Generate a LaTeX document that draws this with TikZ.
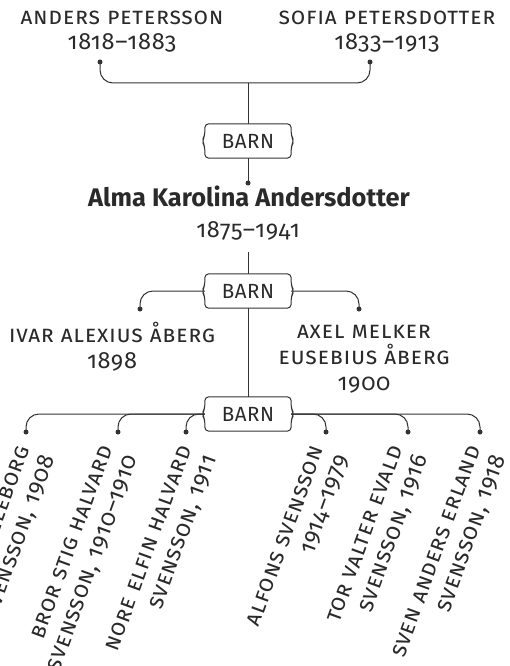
\documentclass[tikz,border=0pt]{standalone}
\usepackage{fontspec}
\setmainfont{Fira Sans}[Numbers={OldStyle,Proportional}]
\newfontfamily\namefont{Fira Sans}[Numbers={OldStyle,Proportional},Letters=UppercaseSmallCaps,LetterSpace=3]
\newfontfamily\barnfont{Fira Sans}[LetterSpace=3]
\usetikzlibrary{calc}
\definecolor{ink}{HTML}{2A2A2A}
\definecolor{wire}{HTML}{333333}
\tikzset{
  person/.style={text=ink,align=center,inner sep=0pt,anchor=base,font=\namefont\fontsize{23.5}{26}\selectfont},
  title/.style={text=ink,inner sep=0pt,anchor=base,font=\bfseries\fontsize{25.4}{26}\selectfont},
  barn/.style={text=ink,inner sep=0pt,minimum width=86pt,minimum height=34pt,font=\barnfont\fontsize{20.5}{22}\selectfont},
  child/.style={text=ink,align=right,inner sep=0pt,rotate=70,anchor=north east,font=\namefont\fontsize{23.5}{26.5}\selectfont},
  wireline/.style={draw=wire,line width=1pt},
  branch/.style={wireline,rounded corners=13pt},
  dotmark/.style={fill=wire}
}
\newcommand\bracebox[1]{%
  \draw[wireline,rounded corners=4pt] (#1.north west) -- ($(#1.west)+(0,-5)$) -- ($(#1.west)+(-3,0)$) -- ($(#1.west)+(0,5)$) -- (#1.south west) -- (#1.south east) -- ($(#1.east)+(0,5)$) -- ($(#1.east)+(3,0)$) -- ($(#1.east)+(0,-5)$) -- (#1.north east) -- cycle;}
\begin{document}
\begin{tikzpicture}[x=1pt,y=-1pt]
\useasboundingbox (0,0) rectangle (510,666);
\clip (0,0) rectangle (510,666);
% parents
\node[person,font=\namefont\fontsize{23.5}{25}\selectfont] (p1) at (122,50) {ANDERS PETERSSON\\1818–1883};
\node[person,font=\namefont\fontsize{23.5}{25}\selectfont] (p2) at (387,50) {SOFIA PETERSDOTTER\\1833–1913};
\coordinate (d1) at (100,62);
\coordinate (d2) at (370,62);
\coordinate (j1) at (248,83);
\fill[dotmark] (d1) circle (2.5);
\fill[dotmark] (d2) circle (2.5);
\draw[branch] (d1) |- (j1) -| (d2);
\node[barn] (b1) at (248,141) {BARN};
\bracebox{b1}
\draw[wireline] (j1) -- (b1.north);
% Alma
\coordinate (da) at (248,183);
\fill[dotmark] (da) circle (2.5);
\draw[wireline] (b1.south) -- (da);
\node[title] (alma) at (249,206) {Alma Karolina Andersdotter};
\node[person] (almay) at (248,237) {1875–1941};
\coordinate (ct) at (248,252);
\node[barn] (b2) at (248,291) {BARN};
\bracebox{b2}
\draw[wireline] (ct) -- (b2.north);
% spouses
\coordinate (s1) at (140,309);
\coordinate (s2) at (359,309);
\fill[dotmark] (s1) circle (2.5);
\fill[dotmark] (s2) circle (2.5);
\draw[branch] (b2.west) -| (s1);
\draw[branch] (b2.east) -| (s2);
\node[person] (ivar) at (112,368) {IVAR ALEXIUS ÅBERG\\1898};
\node[person] (axel) at (364,390) {AXEL MELKER\\EUSEBIUS ÅBERG\\1900};
% children
\node[barn] (b3) at (248,414) {BARN};
\bracebox{b3}
\draw[wireline] (b2.south) -- (b3.north);
\foreach \n/\x in {k1/26,k2/118,k3/186,k4/326,k5/408,k6/480}{
  \coordinate (\n) at (\x,432);
  \fill[dotmark] (\n) circle (2.5);
}
\foreach \n in {k1,k2,k3}{\draw[branch] (b3.west) -| (\n);}
\foreach \n in {k4,k5,k6}{\draw[branch] (b3.east) -| (\n);}
\node[child] (c1) at ($(k1)+(-9,12)$) {ANNA ELEBORG\\SVENSSON, 1908};
\node[child] (c2) at ($(k2)+(-18,12)$) {BROR STIG HALVARD\\SVENSSON, 1910–1910};
\node[child] (c3) at ($(k3)+(-7,12)$) {NORE ELFIN HALVARD\\SVENSSON, 1911};
\node[child] (c4) at ($(k4)+(-15,12)$) {ALFONS SVENSSON\\1914–1979};
\node[child] (c5) at ($(k5)+(-18,12)$) {TOR VALTER EVALD\\SVENSSON, 1916};
\node[child] (c6) at ($(k6)+(-12,12)$) {SVEN ANDERS ERLAND\\SVENSSON, 1918};
\end{tikzpicture}
\end{document}
